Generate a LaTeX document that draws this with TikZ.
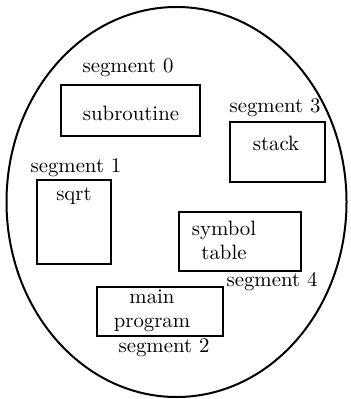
\documentclass[tikz,border=0pt]{standalone}
\usetikzlibrary{shapes.geometric}
\begin{document}
\begin{tikzpicture}[x=0.5pt,y=-0.5pt,
  segbox/.style={draw, line width=1pt, inner sep=0pt},
  lbl/.style={inner sep=0pt, font=\fontsize{10.4}{12}\selectfont, align=center}]
\useasboundingbox (0,0) rectangle (350,399);
\node[draw, ellipse, line width=1pt, minimum width=170pt, minimum height=195pt, inner sep=0pt] (mem) at (176.5,202) {};
% boxes
\node[segbox, minimum width=69.5pt, minimum height=25.5pt] (sub) at (130.5,110.5) {};
\node[segbox, minimum width=47.5pt, minimum height=30pt] (stk) at (277.5,152) {};
\node[segbox, minimum width=37pt, minimum height=42pt] (sq) at (74,222) {};
\node[segbox, minimum width=61pt, minimum height=29.5pt] (sym) at (240,242) {};
\node[segbox, minimum width=63pt, minimum height=24.5pt] (mainp) at (160,311) {};
% texts
\node[lbl] (tsub) at (131,113) {subroutine};
\node[lbl] (tstk) at (276,143) {stack};
\node[lbl, anchor=north] (tsq) at (74,187) {sqrt};
\node[lbl] (tsym) at (224,240) {symbol\\table};
\node[lbl] (tmain) at (152,311) {main\\program};
% labels
\node[lbl] (l0) at (128,68) {segment 0};
\node[lbl] (l3) at (275,108) {segment 3};
\node[lbl] (l1) at (76,168) {segment 1};
\node[lbl] (l4) at (272,282) {segment 4};
\node[lbl] (l2) at (164,348) {segment 2};
\end{tikzpicture}
\end{document}
